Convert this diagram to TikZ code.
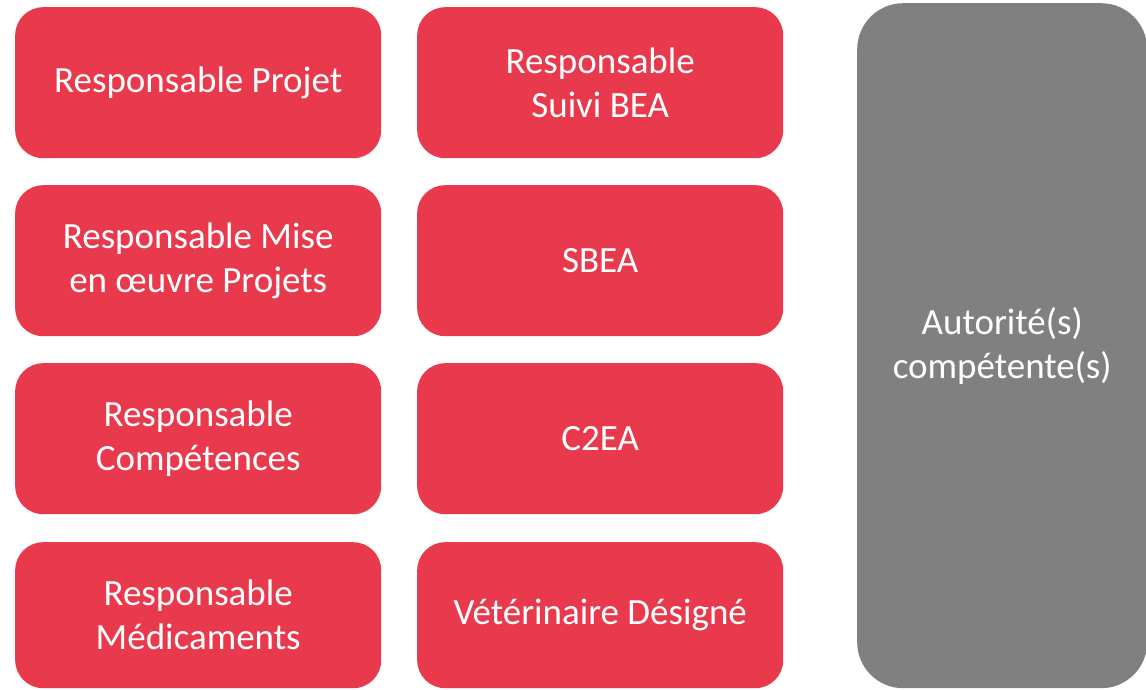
\documentclass[tikz,border=0pt]{standalone}
\usepackage{fontspec}
\setmainfont{Carlito}
\usepackage{xcolor}
\definecolor{roleRed}{RGB}{232,57,77}
\definecolor{authGray}{RGB}{128,128,128}
\newcommand{\roleFont}{\fontsize{37}{44}\selectfont}

\begin{document}
\begin{tikzpicture}[x=1pt,y=-1pt,
  rolebox/.style={fill=roleRed, draw=none, rounded corners=28pt, text=white, align=center,
    font=\roleFont, minimum width=366pt, minimum height=151pt, inner sep=0pt, anchor=north west},
  authbox/.style={fill=authGray, draw=none, rounded corners=46pt, text=white, align=center,
    font=\roleFont, minimum width=290pt, minimum height=685pt, inner sep=0pt, anchor=north west}]
\useasboundingbox (0,0) rectangle (1146,689);
\node[rolebox] (projet) at (15,7) {Responsable Projet};
\node[rolebox] (suivi) at (417,7) {Responsable\\Suivi BEA};
\node[rolebox] (miseoeuvre) at (15,185) {Responsable Mise\\en œuvre Projets};
\node[rolebox] (sbea) at (417,185) {SBEA};
\node[rolebox] (competences) at (15,363) {Responsable\\Compétences};
\node[rolebox] (ceea) at (417,363) {C2EA};
\node[rolebox, minimum height=146pt] (medicaments) at (15,542) {Responsable\\Médicaments};
\node[rolebox, minimum height=146pt] (veto) at (417,542) {Vétérinaire Désigné};
\node[authbox] (autorite) at (857,3) {Autorité(s)\\compétente(s)};
\end{tikzpicture}
\end{document}
